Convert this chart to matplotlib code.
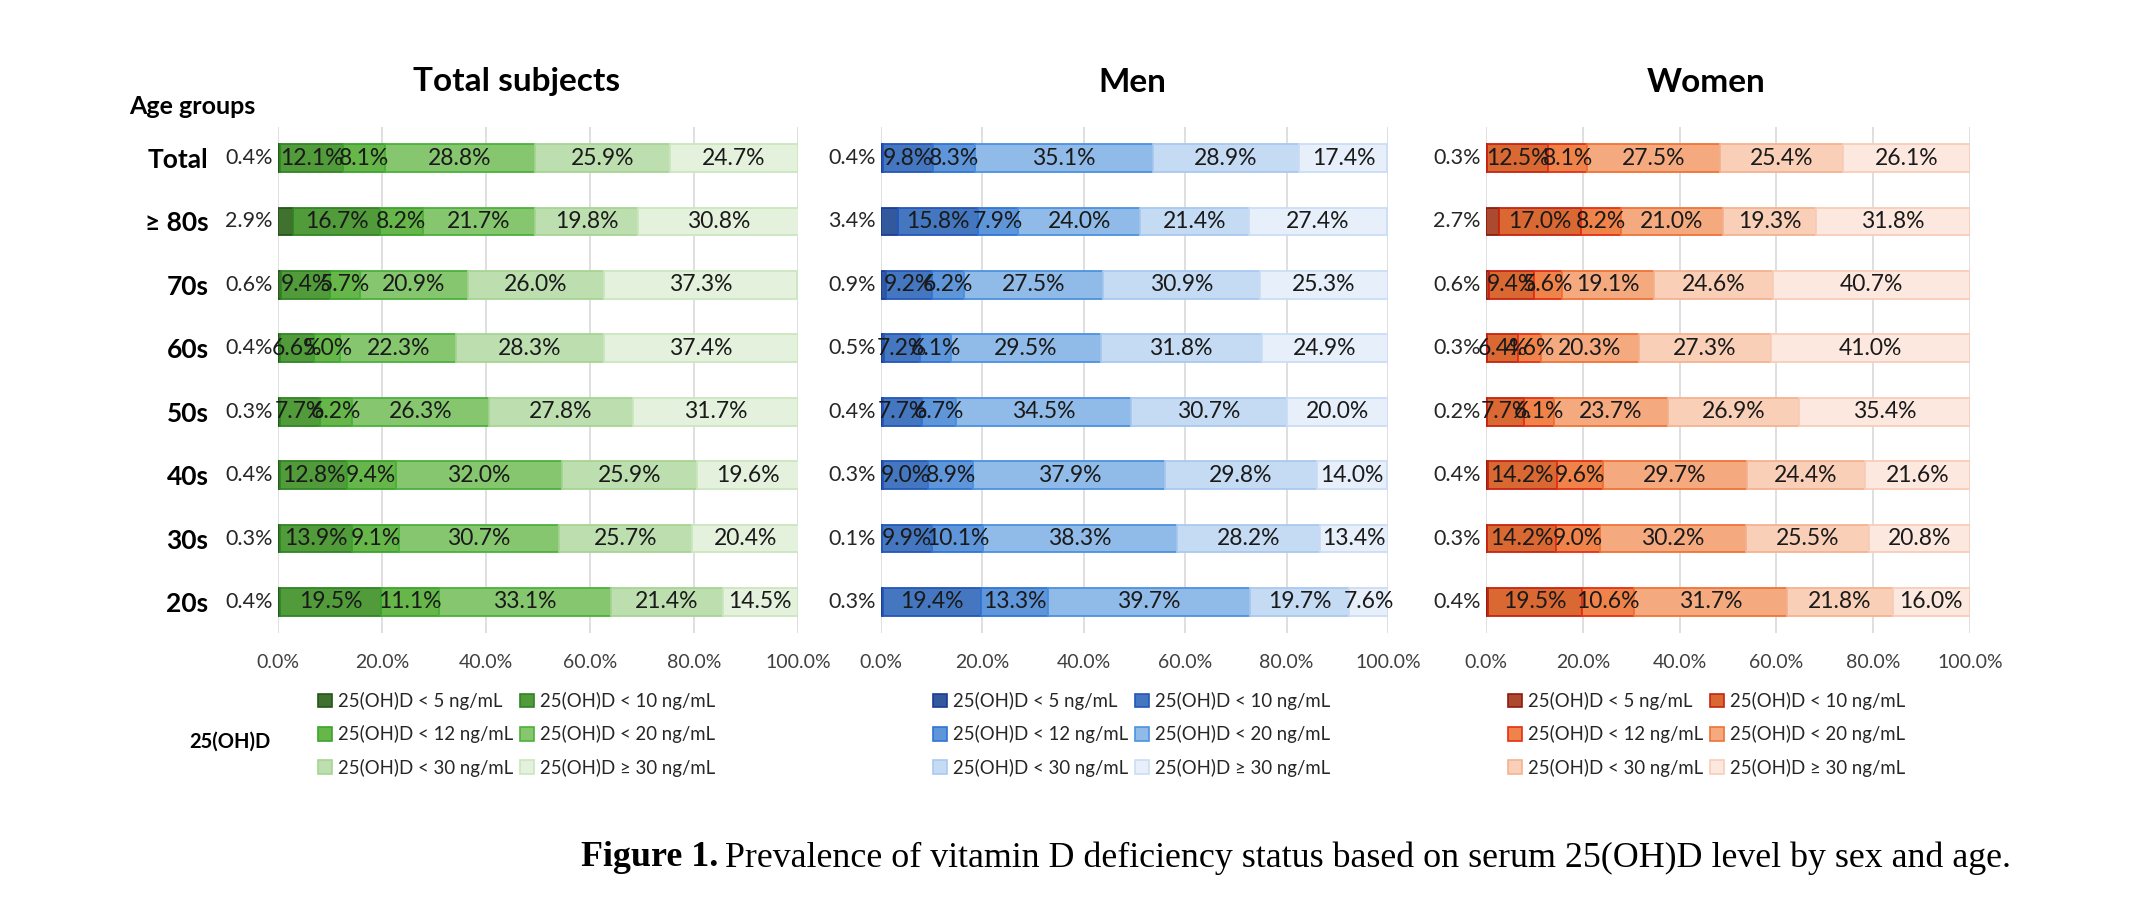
import numpy as np
import matplotlib
matplotlib.use("Agg")
import matplotlib.pyplot as plt
from matplotlib.patches import Patch

plt.rcParams["font.family"] = ["Lato", "DejaVu Sans"]

# rows top -> bottom
age_groups = ["Total", "≥ 80s", "70s", "60s", "50s", "40s", "30s", "20s"]
levels = ["25(OH)D < 5 ng/mL", "25(OH)D < 10 ng/mL", "25(OH)D < 12 ng/mL",
          "25(OH)D < 20 ng/mL", "25(OH)D < 30 ng/mL", "25(OH)D ≥ 30 ng/mL"]

total_vals = [
    [0.4, 12.1, 8.1, 28.8, 25.9, 24.7],
    [2.9, 16.7, 8.2, 21.7, 19.8, 30.8],
    [0.6, 9.4, 5.7, 20.9, 26.0, 37.3],
    [0.4, 6.6, 5.0, 22.3, 28.3, 37.4],
    [0.3, 7.7, 6.2, 26.3, 27.8, 31.7],
    [0.4, 12.8, 9.4, 32.0, 25.9, 19.6],
    [0.3, 13.9, 9.1, 30.7, 25.7, 20.4],
    [0.4, 19.5, 11.1, 33.1, 21.4, 14.5],
]
men_vals = [
    [0.4, 9.8, 8.3, 35.1, 28.9, 17.4],
    [3.4, 15.8, 7.9, 24.0, 21.4, 27.4],
    [0.9, 9.2, 6.2, 27.5, 30.9, 25.3],
    [0.5, 7.2, 6.1, 29.5, 31.8, 24.9],
    [0.4, 7.7, 6.7, 34.5, 30.7, 20.0],
    [0.3, 9.0, 8.9, 37.9, 29.8, 14.0],
    [0.1, 9.9, 10.1, 38.3, 28.2, 13.4],
    [0.3, 19.4, 13.3, 39.7, 19.7, 7.6],
]
women_vals = [
    [0.3, 12.5, 8.1, 27.5, 25.4, 26.1],
    [2.7, 17.0, 8.2, 21.0, 19.3, 31.8],
    [0.6, 9.4, 5.6, 19.1, 24.6, 40.7],
    [0.3, 6.4, 4.6, 20.3, 27.3, 41.0],
    [0.2, 7.7, 6.1, 23.7, 26.9, 35.4],
    [0.4, 14.2, 9.6, 29.7, 24.4, 21.6],
    [0.3, 14.2, 9.0, 30.2, 25.5, 20.8],
    [0.4, 19.5, 10.6, 31.7, 21.8, 16.0],
]

green_face = ["#41712f", "#519b3b", "#66b64a", "#86c66f", "#bddfb0", "#e4f2dd"]
green_edge = ["#24561a", "#2f8524", "#3aa52c", "#4cb23a", "#a6d493", "#cbe6bf"]
blue_face = ["#31599c", "#4477c0", "#5f95d9", "#90bbe9", "#c5dbf3", "#e6effa"]
blue_edge = ["#1a3c94", "#2456b8", "#2f75d6", "#4b92e0", "#a9c9ef", "#cbddf5"]
red_face = ["#ab4a2e", "#d96832", "#ef8349", "#f5a97e", "#f9cfb7", "#fce8de"]
red_edge = ["#8c1c10", "#c62412", "#e52f14", "#f07336", "#f4b391", "#f8cdb9"]

W, H = 2154, 898
fig = plt.figure(figsize=(W / 100, H / 100), dpi=100)

ax_bottom = 1 - 633 / H
ax_height = (633 - 127) / H

panels = [
    ("Total subjects", total_vals, green_face, green_edge, 278, 798, 517, 318),
    ("Men", men_vals, blue_face, blue_edge, 881, 1388, 1132, 933),
    ("Women", women_vals, red_face, red_edge, 1486, 1970, 1706, 1508),
]

ypos = np.arange(len(age_groups))[::-1]

for p, (title, vals, faces, edges, x0, x1, tx, lx) in enumerate(panels):
    vals = np.array(vals)
    ax = fig.add_axes([x0 / W, ax_bottom, (x1 - x0) / W, ax_height])
    left = np.zeros(len(age_groups))
    for k in range(len(levels)):
        ax.barh(ypos, vals[:, k], left=left, height=0.44, color=faces[k],
                edgecolor=edges[k], linewidth=1.3, zorder=2)
        for yy, l, v in zip(ypos, left, vals[:, k]):
            if k == 0:
                ax.annotate(f"{v:.1f}%", (0, yy), xytext=(-4, 0), textcoords="offset points",
                            ha="right", va="center", fontsize=15.5, color="#262626")
            else:
                ax.text(l + v / 2, yy, f"{v:.1f}%", ha="center", va="center",
                        fontsize=16.5, color="#1a1a1a", zorder=3)
        left += vals[:, k]

    ax.set_xlim(0, 100)
    ax.set_ylim(-0.49, len(age_groups) - 0.51)
    ax.set_xticks(range(0, 101, 20))
    ax.set_xticklabels([f"{t:.1f}%" for t in range(0, 101, 20)])
    ax.tick_params(axis="x", length=0, pad=15, labelsize=14, labelcolor="#404040")
    ax.xaxis.grid(True, color="#d9d9d9", lw=1.2)
    ax.set_axisbelow(True)
    for s in ax.spines.values():
        s.set_visible(False)
    if p == 0:
        ax.set_yticks(ypos)
        ax.set_yticklabels(age_groups, fontsize=19, fontweight="bold")
        ax.tick_params(axis="y", length=0, pad=50)
    else:
        ax.set_yticks([])

    fig.text(tx / W, 1 - 82 / H, title, ha="center", va="center",
             fontsize=24, fontweight="bold")

    order = [0, 2, 4, 1, 3, 5]
    handles = [Patch(facecolor=faces[i], edgecolor=edges[i], linewidth=1.2) for i in order]
    ax.legend(handles, [levels[i] for i in order], ncol=2, loc="upper left",
              bbox_to_anchor=(lx / W, 1 - 692 / H), bbox_transform=fig.transFigure,
              frameon=False, fontsize=13.4, handlelength=0.75, handleheight=0.75,
              handletextpad=0.3, columnspacing=0.4, labelspacing=0.82,
              borderpad=0, borderaxespad=0, labelcolor="#262626")

fig.text(255 / W, 1 - 106 / H, "Age groups", ha="right", va="center",
         fontsize=18, fontweight="bold")
fig.text(270 / W, 1 - 742 / H, "25(OH)D", ha="right", va="center",
         fontsize=14.5, fontweight="bold")

# caption
cap_y = 1 - 858 / H
t1 = fig.text(581 / W, cap_y, "Figure 1.", ha="left", va="center", fontsize=25.8,
              fontweight="bold", family="Liberation Serif")
r = fig.canvas.get_renderer()
bb = t1.get_window_extent(renderer=r)
fig.text(bb.x1 / W + 7 / W, cap_y,
         "Prevalence of vitamin D deficiency status based on serum 25(OH)D level by sex and age.",
         ha="left", va="center", fontsize=25.8, family="Liberation Serif")

fig.savefig("out.png", dpi=100, facecolor="white")
